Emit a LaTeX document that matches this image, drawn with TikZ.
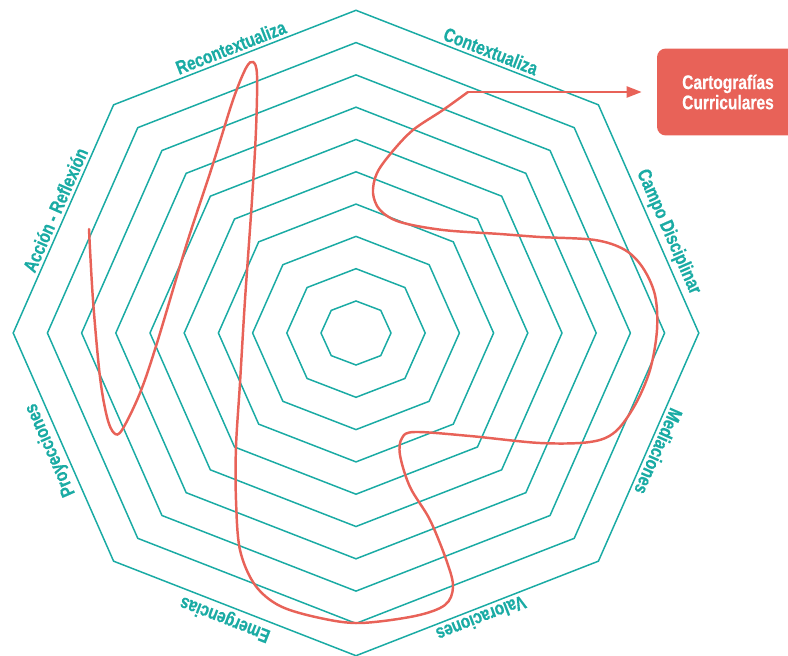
\documentclass[tikz,border=0pt]{standalone}
\usepackage{fontspec}
\usepackage{xcolor}
\usepackage{tikz}
\usetikzlibrary{arrows.meta}
\newfontfamily\labelfont[FakeStretch=0.79,BoldFeatures={FakeBold=0.5}]{Liberation Sans}
\definecolor{gridteal}{RGB}{26,171,164}
\definecolor{pathred}{RGB}{232,98,88}

\begin{document}
\begin{tikzpicture}[x=0.02cm,y=0.02cm,
    ring/.style={draw=gridteal,line width=0.85pt},
    axis/.style={text=gridteal,font=\labelfont\bfseries\fontsize{11}{12}\selectfont,
      sloped,above,allow upside down,inner sep=2pt},
    trail/.style={draw=pathred,line width=1.4pt,line cap=round}]
  \clip (-356,-323) rectangle (432,333);

  \foreach \k [evaluate=\k as \rx using 35+34.2*\k,
               evaluate=\k as \ry using 32+32.3*\k] in {0,...,9}
    \draw[ring] (90:{\rx} and {\ry}) \foreach \a in {45,0,...,-225} { -- (\a:{\rx} and {\ry}) } -- cycle;

  \foreach \a/\txt/\p [count=\i] in {90/Contextualiza/0.54, 45/Campo Disciplinar/0.58,
      0/Mediaciones/0.5, -45/Valoraciones/0.5, -90/Emergencias/0.52,
      -135/Proyecciones/0.51, -180/Acción - Reflexión/0.52, -225/Recontextualiza/0.5}
    \path (\a:342.8 and 322.7) -- node[axis,pos=\p] (side\i) {\txt} (\a-45:342.8 and 322.7);

  \node[fill=pathred,rounded corners=5pt,text=white,align=center,
        minimum width=2.84cm,minimum height=1.74cm,
        font=\labelfont\bfseries\fontsize{11.2}{9.8}\selectfont] (cart) at (372,241)
        {Cartografías\\Curriculares};

  \coordinate (start) at (-267,104);
  \coordinate (turn) at (112,241);
  \draw[trail] plot[smooth,tension=0.55] coordinates {(start)
    (-263,33) (-256,-44) (-249,-84) (-242,-100) (-234,-97) (-216,-60) (-199,-10)
    (-169,90) (-144,166) (-123,233) (-110,265) (-103,271) (-99,258) (-100,203)
    (-104,133) (-111,33) (-116,-50) (-120,-114) (-120,-167) (-116,-217) (-101,-252)
    (-76,-273) (-36,-285) (4,-290) (59,-283) (89,-272) (97,-254) (91,-229)
    (74,-187) (54,-154) (44,-122) (46,-105) (59,-99) (114,-103) (184,-110)
    (234,-109) (259,-99) (279,-72) (294,-37) (301,3) (299,38) (287,65) (269,83)
    (239,93) (184,96) (144,99) (87,103) (44,111) (24,123) (17,140) (21,160)
    (36,181) (57,203) (87,223) (turn)};
  \draw[trail,-{Triangle[length=0.3cm,width=0.22cm]},shorten >=0.3cm] (turn) -- (cart);
\end{tikzpicture}
\end{document}
